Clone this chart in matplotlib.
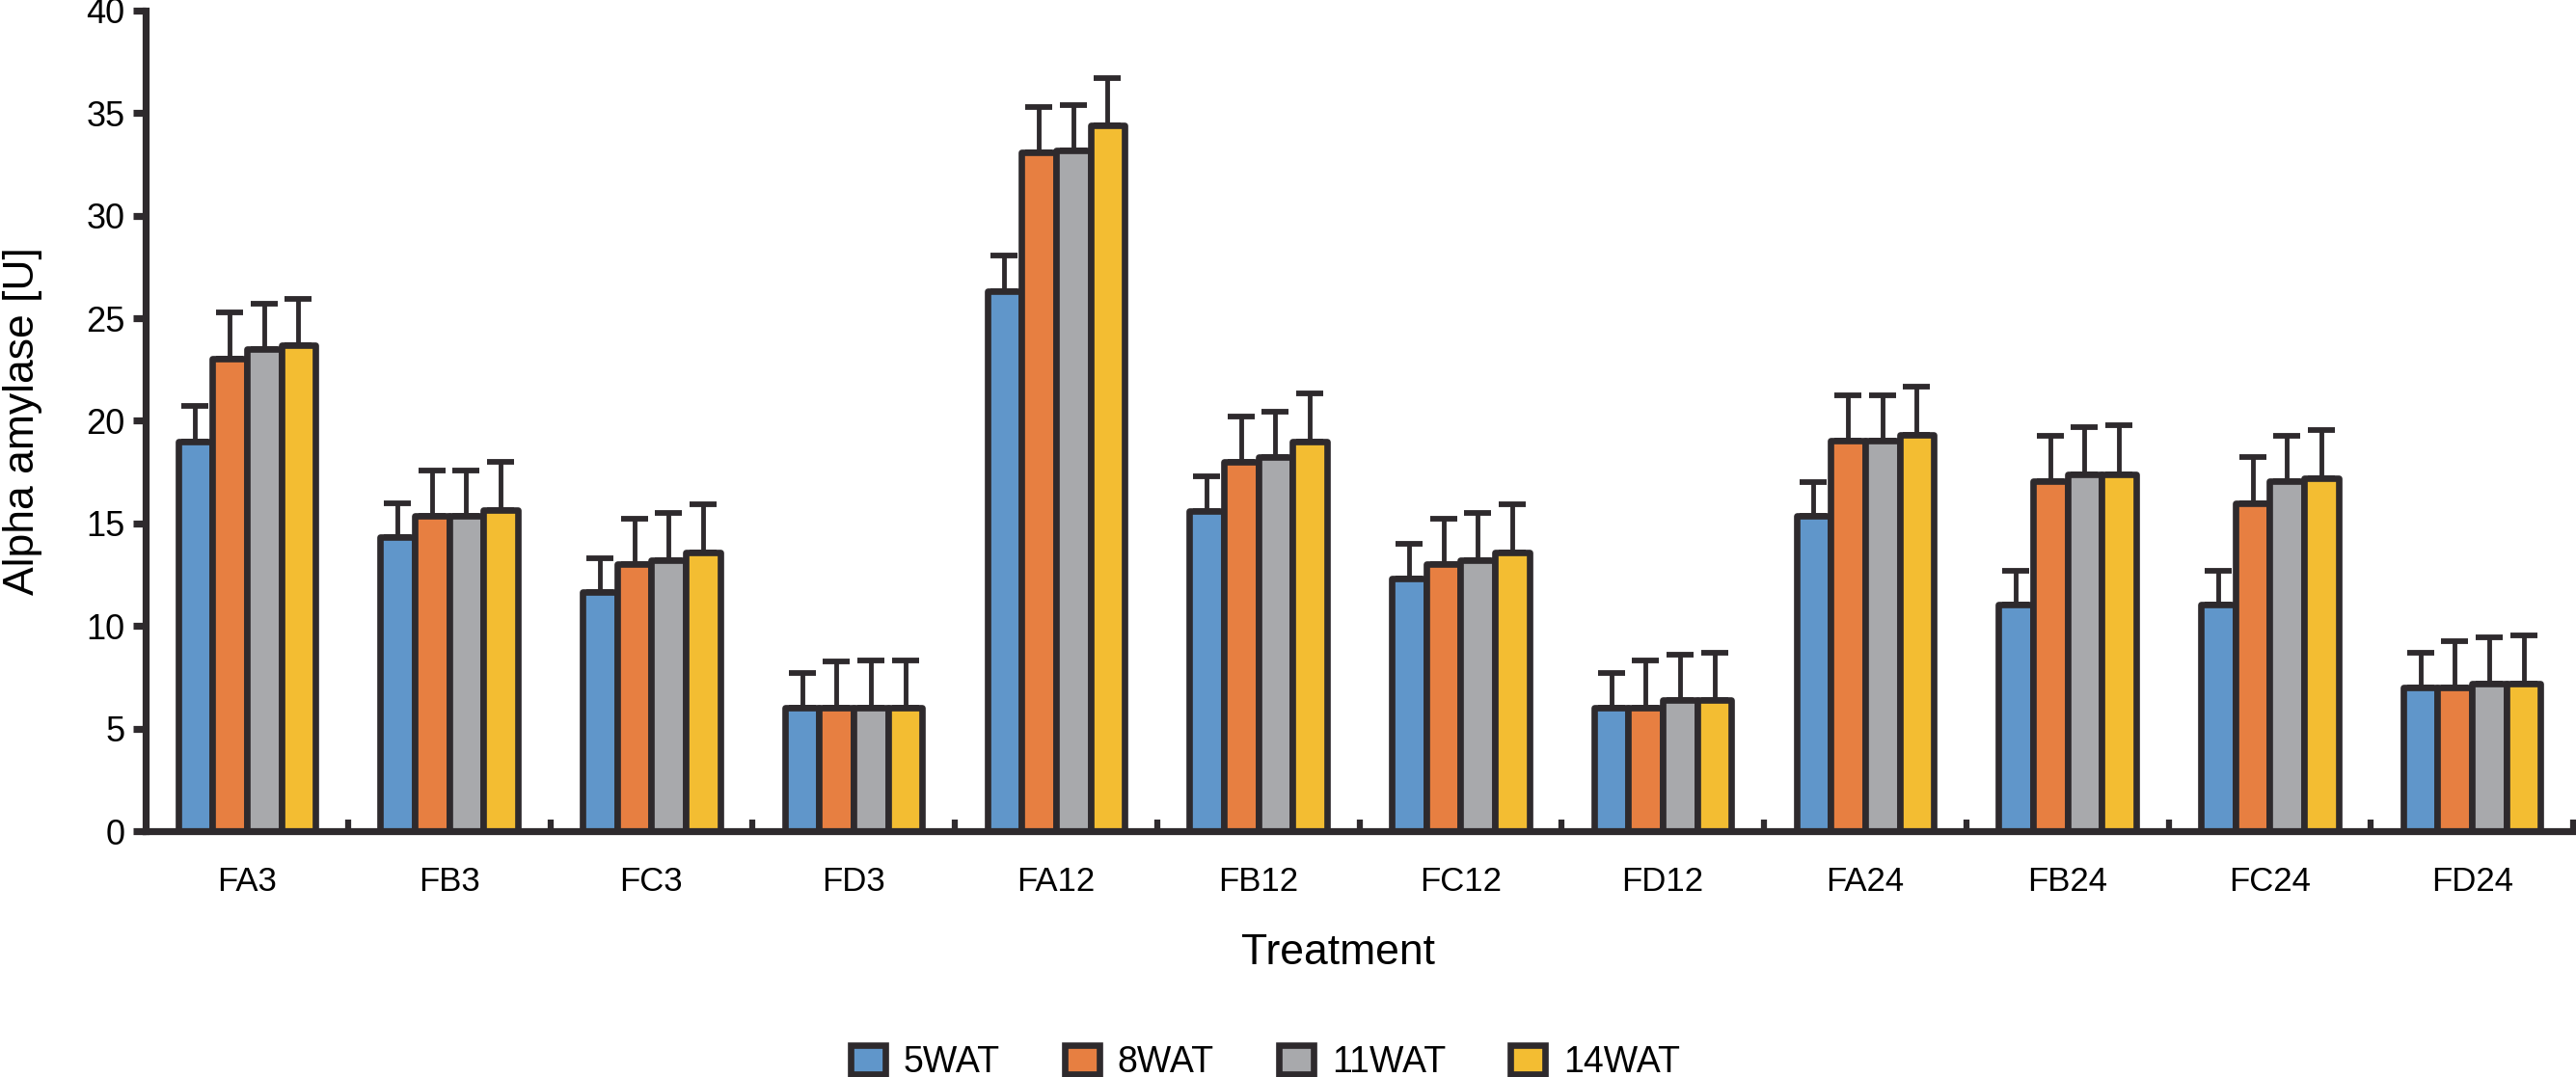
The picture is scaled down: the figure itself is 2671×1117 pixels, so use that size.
import numpy as np
import matplotlib
matplotlib.use("Agg")
import matplotlib.pyplot as plt
from matplotlib.ticker import FixedLocator

plt.rcParams['font.family'] = ['Liberation Sans', 'DejaVu Sans']

categories = ["FA3", "FB3", "FC3", "FD3", "FA12", "FB12", "FC12", "FD12",
              "FA24", "FB24", "FC24", "FD24"]
series = ["5WAT", "8WAT", "11WAT", "14WAT"]

wat5 = [19.0, 14.35, 11.65, 6.0, 26.3, 15.6, 12.3, 6.0, 15.35, 11.05, 11.05, 7.0]
wat8 = [23.05, 15.35, 13.0, 6.0, 33.1, 18.0, 13.0, 6.0, 19.05, 17.05, 16.0, 7.0]
wat11 = [23.5, 15.35, 13.2, 6.0, 33.2, 18.25, 13.2, 6.4, 19.05, 17.4, 17.05, 7.2]
wat14 = [23.7, 15.65, 13.6, 6.0, 34.4, 19.0, 13.6, 6.4, 19.3, 17.4, 17.2, 7.2]

sd5 = [1.75, 1.65, 1.65, 1.7, 1.75, 1.7, 1.7, 1.7, 1.65, 1.65, 1.65, 1.7]
sd8 = [2.25, 2.25, 2.25, 2.25, 2.2, 2.2, 2.25, 2.3, 2.2, 2.2, 2.25, 2.25]
sd11 = [2.2, 2.25, 2.3, 2.3, 2.2, 2.2, 2.3, 2.2, 2.2, 2.3, 2.2, 2.25]
sd14 = [2.25, 2.35, 2.35, 2.3, 2.3, 2.35, 2.35, 2.3, 2.35, 2.4, 2.35, 2.35]

y_ticks = [0, 5, 10, 15, 20, 25, 30, 35, 40]

values = [wat5, wat8, wat11, wat14]
errors = [sd5, sd8, sd11, sd14]
colors = ["#6096ca", "#e77f41", "#a8a9ac", "#f3bd32"]
edge = "#2e2a2d"

W, H = 2671, 1117
fig = plt.figure(figsize=(W / 100, H / 100), dpi=100)
fig.patch.set_facecolor("white")

ax_left, ax_right = 151 / W, 2668 / W
ax_bottom, ax_top = 1 - 862 / H, 1 - 11 / H
ax = fig.add_axes([ax_left, ax_bottom, ax_right - ax_left, ax_top - ax_bottom])

x = np.arange(len(categories))
bw = 0.17
offsets = (np.arange(4) - 1.5) * bw
handles = []
for i in range(4):
    v = np.array(values[i])
    e = np.array(errors[i])
    bc = ax.bar(x + offsets[i], v, width=bw, color=colors[i], edgecolor=edge,
                linewidth=4.8, joinstyle='round', label=series[i], zorder=2,
                yerr=[np.zeros_like(e), e],
                error_kw=dict(ecolor=edge, elinewidth=3.5, capsize=10,
                              capthick=4.2, zorder=1))
    handles.append(bc)

ax.set_xlim(-0.5, len(categories) - 0.5)
ax.set_ylim(0, 40)
ax.set_yticks(y_ticks)
ax.set_xticks(x)
ax.set_xticklabels(categories)
ax.xaxis.set_minor_locator(FixedLocator(np.arange(0.5, len(categories), 1.0)))

for s in ["top", "right"]:
    ax.spines[s].set_visible(False)
for s in ["left", "bottom"]:
    ax.spines[s].set_linewidth(5.2)
    ax.spines[s].set_color(edge)
    ax.spines[s].set_capstyle('projecting')

ax.tick_params(axis='y', which='major', direction='out', length=9.5, width=5.2,
               color=edge, labelsize=26, pad=6, labelcolor='black')
ax.tick_params(axis='x', which='major', length=0, labelsize=25, pad=26,
               labelcolor='black')
ax.tick_params(axis='x', which='minor', direction='in', length=9, width=4.5,
               color=edge)

ax.set_xlabel("Treatment", fontsize=32, va='top')
ax.xaxis.set_label_coords((1388 - 151) / 2517, -106 / 851)
ax.set_ylabel("Alpha amylase [U]", fontsize=32)
ax.yaxis.set_label_coords(-107 / 2517, 0.5)

leg = fig.legend(handles=[h.patches[0] for h in handles], labels=series,
                 loc='center', bbox_to_anchor=(1312 / W, 1 - 1102 / H),
                 ncol=4, frameon=False, fontsize=27, handlelength=0.95,
                 handleheight=0.85, handletextpad=0.5, columnspacing=1.8,
                 borderpad=0, borderaxespad=0)

fig.savefig("out.png", dpi=100, facecolor="white")
